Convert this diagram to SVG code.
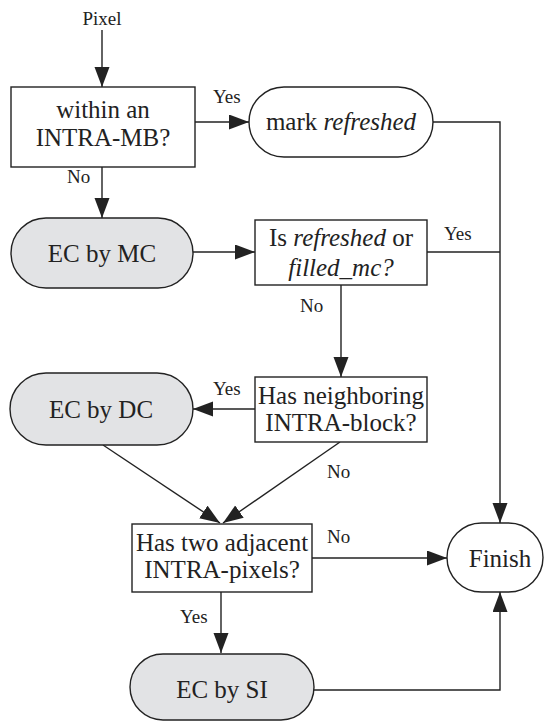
<svg xmlns="http://www.w3.org/2000/svg" width="544" height="722" viewBox="0 0 544 722">
<style>
text{font-family:"Liberation Serif","Times New Roman",serif;fill:#222;}
.t{font-size:25px;text-anchor:middle;}
.l{font-size:19px;}
.box{fill:#fff;stroke:#222;stroke-width:1.4;}
.term{fill:#fff;stroke:#222;stroke-width:1.4;}
.gray{fill:#e2e3e5;stroke:#222;stroke-width:1.4;}
.c{fill:none;stroke:#222;stroke-width:1.4;}
</style>
<defs>
<marker id="ah" markerUnits="userSpaceOnUse" markerWidth="21" markerHeight="16" refX="20" refY="7.5" orient="auto">
<path d="M0,0 L20,7.5 L0,15 z" fill="#222"/>
</marker>
</defs>
<g id="connectors">
<line class="c" x1="102" y1="30" x2="102" y2="87" marker-end="url(#ah)"/>
<line class="c" x1="195" y1="122" x2="249" y2="122" marker-end="url(#ah)"/>
<polyline class="c" points="433,122 500,122 500,523" marker-end="url(#ah)"/>
<line class="c" x1="102" y1="167" x2="102" y2="218" marker-end="url(#ah)"/>
<line class="c" x1="193" y1="252" x2="255" y2="252" marker-end="url(#ah)"/>
<line class="c" x1="427" y1="252" x2="500" y2="252"/>
<line class="c" x1="341" y1="285" x2="341" y2="377" marker-end="url(#ah)"/>
<line class="c" x1="255" y1="409" x2="193" y2="409" marker-end="url(#ah)"/>
<line class="c" x1="103" y1="445" x2="220" y2="523" marker-end="url(#ah)"/>
<line class="c" x1="340" y1="442" x2="223" y2="523" marker-end="url(#ah)"/>
<line class="c" x1="312" y1="558" x2="447" y2="558" marker-end="url(#ah)"/>
<line class="c" x1="221" y1="592" x2="221" y2="653" marker-end="url(#ah)"/>
<polyline class="c" points="314,690 500,690 500,592" marker-end="url(#ah)"/>
<text class="l" x="102" y="25" text-anchor="middle">Pixel</text>
<text class="l" x="213" y="103">Yes</text>
<text class="l" x="67" y="183">No</text>
<text class="l" x="444" y="240">Yes</text>
<text class="l" x="300" y="312">No</text>
<text class="l" x="213" y="395">Yes</text>
<text class="l" x="327" y="478">No</text>
<text class="l" x="327" y="543">No</text>
<text class="l" x="180" y="623">Yes</text>
</g>
<g id="n_intra">
<rect class="box" x="11" y="87" width="184" height="80"/>
<text class="t" x="103" y="117.5">within an</text>
<text class="t" x="103" y="146">INTRA-MB?</text>
</g>
<g id="n_mark">
<rect class="term" x="249" y="87" width="184" height="70" rx="35"/>
<text class="t" x="341" y="130">mark <tspan font-style="italic">refreshed</tspan></text>
</g>
<g id="n_ecmc">
<rect class="gray" x="11" y="218" width="182" height="70" rx="35"/>
<text class="t" x="102" y="262">EC by MC</text>
</g>
<g id="n_refreshed">
<rect class="box" x="255" y="220" width="172" height="65"/>
<text class="t" x="341" y="246">Is <tspan font-style="italic">refreshed</tspan> or</text>
<text class="t" x="341" y="276" font-style="italic">filled_mc?</text>
</g>
<g id="n_neighbor">
<rect class="box" x="255" y="377" width="172" height="65"/>
<text class="t" x="341" y="404">Has neighboring</text>
<text class="t" x="341" y="431">INTRA-block?</text>
</g>
<g id="n_ecdc">
<rect class="gray" x="10" y="373" width="183" height="72" rx="36"/>
<text class="t" x="101" y="418">EC by DC</text>
</g>
<g id="n_adjacent">
<rect class="box" x="132" y="524" width="180" height="68"/>
<text class="t" x="222" y="551">Has two adjacent</text>
<text class="t" x="222" y="578">INTRA-pixels?</text>
</g>
<g id="n_finish">
<rect class="term" x="447" y="523" width="96" height="69" rx="34.5"/>
<text class="t" x="500" y="567">Finish</text>
</g>
<g id="n_ecsi">
<rect class="gray" x="130" y="654" width="184" height="66" rx="33"/>
<text class="t" x="222" y="698">EC by SI</text>
</g>
</svg>
